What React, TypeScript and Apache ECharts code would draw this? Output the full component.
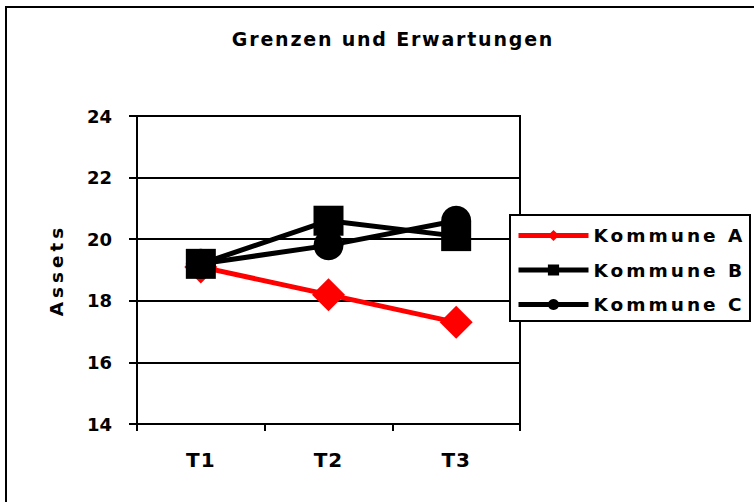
import React, { useEffect, useRef } from "react";
import * as echarts from "echarts";

const categories = ["T1", "T2", "T3"];
const seriesNames = ["Kommune A", "Kommune B", "Kommune C"];
const kommuneA = [19.1, 18.2, 17.3];
const kommuneB = [19.2, 20.6, 20.1];
const kommuneC = [19.2, 19.8, 20.6];
const yMin = 14;
const yMax = 24;
const yStep = 2;

const FONT = "DejaVu Sans";

export default function App() {
  const ref = useRef<HTMLDivElement>(null);
  useEffect(() => {
    if (!ref.current) return;
    const chart = echarts.init(ref.current, null, { renderer: "svg" });
    chart.setOption({
      animation: false,
      backgroundColor: "#ffffff",
      title: {
        text: "Grenzen und Erwartungen",
        left: 388,
        textAlign: "center",
        top: 24,
        textStyle: { fontFamily: FONT, fontWeight: "bold", fontSize: 19, color: "#000" },
      },
      graphic: [
        {
          type: "rect",
          z: 0,
          silent: true,
          shape: { x: 6, y: 7, width: 780, height: 530 },
          style: { fill: "none", stroke: "#000", lineWidth: 2 },
        },
        {
          type: "rect",
          z: 3,
          silent: true,
          shape: { x: 510, y: 215, width: 240, height: 106 },
          style: { fill: "#fff", stroke: "#000", lineWidth: 2 },
        },
      ],
      legend: {
        orient: "vertical",
        left: 516,
        top: 226,
        padding: 0,
        z: 5,
        itemWidth: 70,
        itemHeight: 14,
        itemGap: 15.5,
        data: seriesNames,
        lineStyle: { width: 5 },
        textStyle: { fontFamily: FONT, fontWeight: "bold", fontSize: 18.5, color: "#000" },
      },
      grid: {
        left: 137,
        top: 116,
        right: 234,
        bottom: 78,
        show: true,
        borderColor: "#000",
        borderWidth: 2,
        containLabel: false,
      },
      xAxis: {
        type: "category",
        data: categories,
        boundaryGap: true,
        axisLine: { show: true, lineStyle: { color: "#000", width: 2 } },
        axisTick: { show: true, length: 7, lineStyle: { color: "#000", width: 2 } },
        axisLabel: { margin: 26, fontFamily: FONT, fontWeight: "bold", fontSize: 20, color: "#000" },
        splitLine: { show: false },
      },
      yAxis: {
        type: "value",
        min: yMin,
        max: yMax,
        interval: yStep,
        name: "Assets",
        nameLocation: "middle",
        nameRotate: 90,
        nameGap: 72,
        nameTextStyle: { fontFamily: FONT, fontWeight: "bold", fontSize: 18.4, color: "#000" },
        axisLine: { show: true, lineStyle: { color: "#000", width: 2 } },
        axisTick: { show: true, length: 8, lineStyle: { color: "#000", width: 2 } },
        axisLabel: { margin: 25, fontFamily: FONT, fontWeight: "bold", fontSize: 18, color: "#000" },
        splitLine: { show: true, lineStyle: { color: "#000", width: 2 } },
      },
      series: [
        {
          name: seriesNames[0],
          type: "line",
          data: kommuneA,
          symbol: "diamond",
          symbolSize: 33,
          color: "#ff0000",
          lineStyle: { color: "#ff0000", width: 5 },
          itemStyle: { color: "#ff0000" },
          z: 2,
        },
        {
          name: seriesNames[1],
          type: "line",
          data: kommuneB,
          symbol: "rect",
          symbolSize: 30,
          color: "#000000",
          lineStyle: { color: "#000000", width: 5 },
          itemStyle: { color: "#000000" },
          z: 2,
        },
        {
          name: seriesNames[2],
          type: "line",
          data: kommuneC,
          symbol: "circle",
          symbolSize: 30,
          color: "#000000",
          lineStyle: { color: "#000000", width: 5 },
          itemStyle: { color: "#000000" },
          z: 2,
        },
      ],
    });
    return () => chart.dispose();
  }, []);
  return (
    <>
      <style>{`
        #chart-root text[style*="19px"] { letter-spacing: 1.8px; }
        #chart-root text[style*="18.5px"] { letter-spacing: 3px; }
        #chart-root text[style*="18.4px"] { letter-spacing: 4px; }
        #chart-root text[style*="20px"] { letter-spacing: 1px; }
      `}</style>
      <div
        id="chart-root"
        ref={ref}
        style={{ position: "absolute", left: 0, top: 0, width: 754, height: 502 }}
      />
    </>
  );
}
